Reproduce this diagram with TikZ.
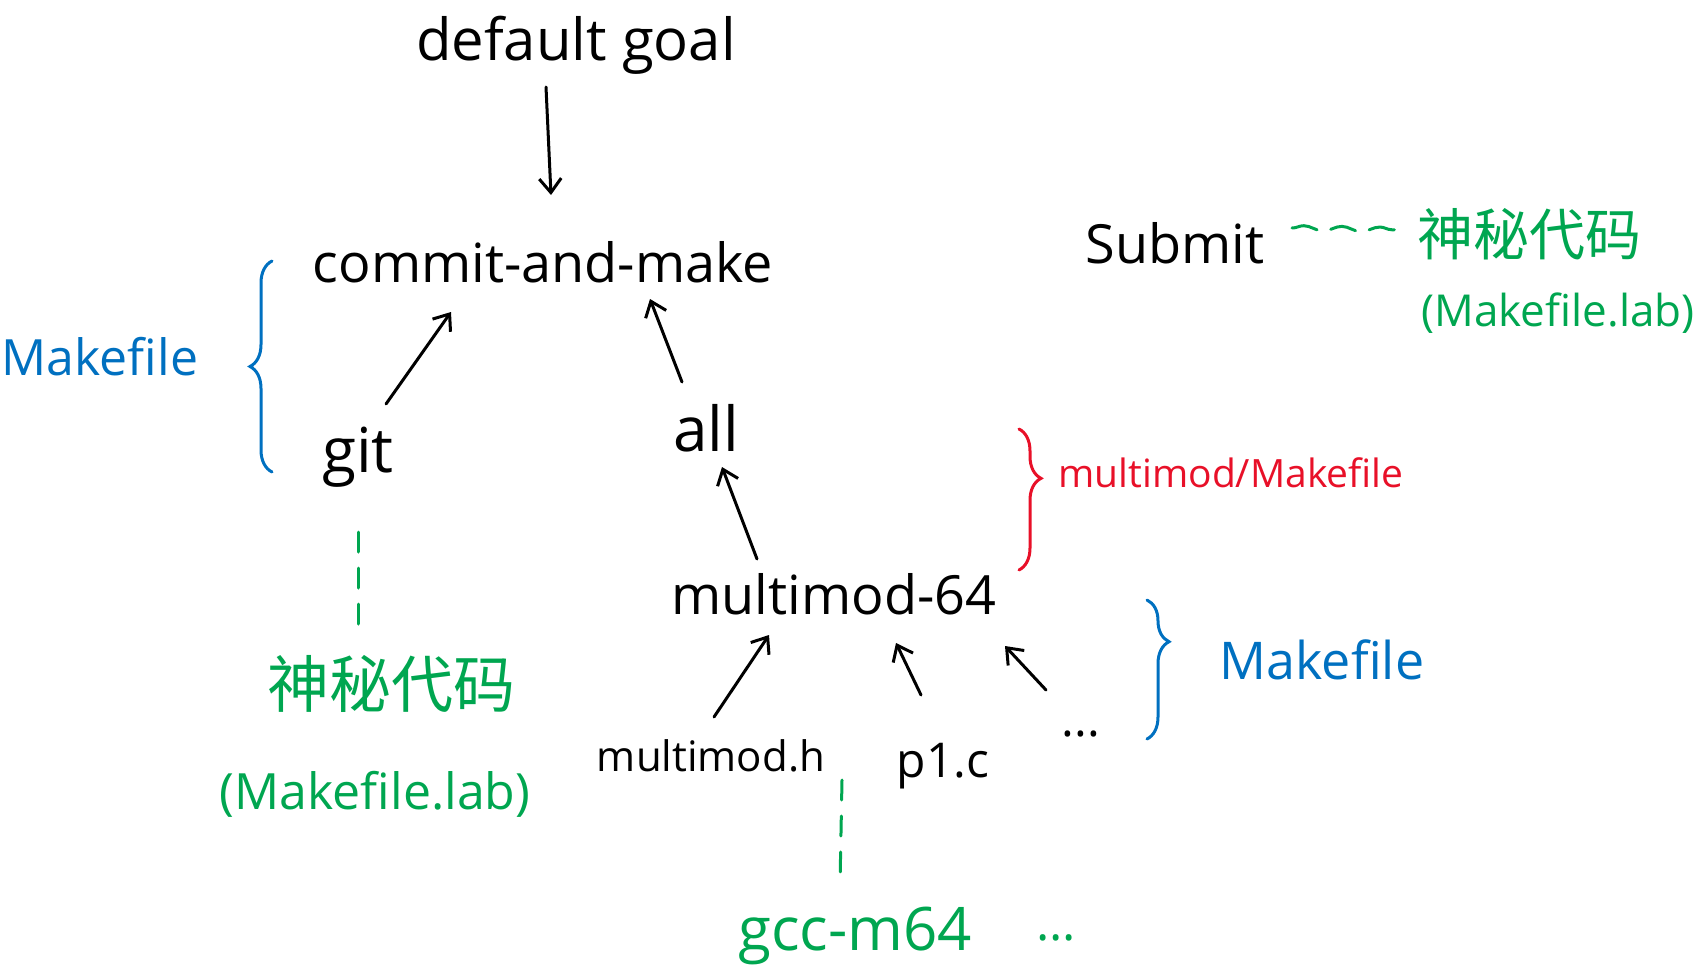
\documentclass[tikz,border=0pt]{standalone}
\usepackage{fontspec}
\setmainfont{Open Sans}
\newfontfamily\cjk{Noto Sans CJK SC}
\usetikzlibrary{arrows.meta,calc,decorations.pathreplacing,decorations.pathmorphing}
\definecolor{hgreen}{RGB}{0,166,80}
\definecolor{hblue}{RGB}{0,112,192}
\definecolor{hred}{RGB}{232,16,40}
\begin{document}
\begin{tikzpicture}[x=1pt,y=-1pt,
  lbl/.style={inner sep=0pt,anchor=base,font=\fontsize{54}{60}\selectfont},
  sm/.style={font=\fontsize{#1}{#1}\selectfont},
  arr/.style={-{Straight Barb[length=14pt,width=22pt,line width=3pt]},line width=3pt,line cap=round},
  gdash/.style={hgreen,line width=3pt,dash pattern=on 20pt off 16pt,line cap=round},
  hbrace/.style={decorate,decoration={brace,amplitude=22pt,aspect=#1},line width=3pt,line cap=round}]
\useasboundingbox (0,0) rectangle (1703,977);
% black labels
\node[lbl,sm=58] (dg) at (576,60) {default goal};
\node[lbl] (commit) at (543,282) {commit-and-make};
\node[lbl] (submit) at (1175,263) {Submit};
\node[lbl,sm=62] (git) at (358,472) {git};
\node[lbl,sm=62] (all) at (706,451) {all};
\node[lbl] (mm) at (834,614) {multimod-64};
\node[lbl,sm=42] (mmh) at (711,771) {multimod.h};
\node[lbl,sm=48] (p1c) at (943,777) {p1.c};
\node[lbl,sm=48] (dots) at (1081,736) {...};
% green labels
\node[inner sep=0pt,hgreen,font=\cjk\fontsize{56}{60}\selectfont] (myst1) at (1529,234) {神秘代码};
\node[lbl,hgreen,sm=44] (mkl1) at (1558,326) {(Makefile.lab)};
\node[inner sep=0pt,hgreen,font=\cjk\fontsize{62}{66}\selectfont] (myst2) at (391,684) {神秘代码};
\node[lbl,hgreen,sm=50] (mkl2) at (375,809) {(Makefile.lab)};
\node[lbl,hgreen,sm=60] (gcc) at (855,950) {gcc-m64};
\node[lbl,hgreen,sm=50] (gccdots) at (1056,940) {...};
% blue / red labels
\node[lbl,hblue,sm=50] (mkleft) at (100,375) {Makefile};
\node[lbl,hblue,sm=52] (mkright) at (1322,679) {Makefile};
\node[lbl,hred,sm=39] (redtxt) at (1231,487) {multimod/Makefile};
% arrows
\draw[arr] ($(dg.base)+(-30,27)$) -- ($(commit.base)+(8,-87)$);
\draw[arr] ($(git.base)+(28,-68)$) -- ($(commit.base)+(-92,30)$);
\draw[arr] ($(all.base)+(-24,-69)$) -- ($(commit.base)+(107,17)$);
\draw[arr] ($(mm.base)+(-77,-55)$) -- ($(all.base)+(16,16)$);
\draw[arr] ($(mmh.base)+(3,-54)$) -- ($(mm.base)+(-65,21)$);
\draw[arr] ($(p1c.base)+(-22,-82)$) -- ($(mm.base)+(62,29)$);
\draw[arr] ($(dots.base)+(-35,-46)$) -- ($(mm.base)+(171,32)$);
% green dashed connectors
\draw[gdash] ($(git.base)+(0,60)$) -- ($(myst2)+(-33,-60)$);
\draw[gdash] ($(mmh.base)+(131,9)$) -- ($(gcc.base)+(-15,-65)$);
\draw[hgreen,line width=3pt,line cap=round,dash pattern=on 26pt off 14pt,
  decorate,decoration={snake,amplitude=2.5pt,segment length=38pt}]
  ($(submit.base)+(117,-35)$) -- ($(myst1)+(-123,-4)$);
% braces
\draw[hbrace=0.5,hblue] ($(mkleft.base)+(172,97)$) -- ($(mkleft.base)+(172,-114)$);
\draw[hbrace=0.35,hred] ($(redtxt.base)+(-212,-58)$) -- ($(redtxt.base)+(-212,83)$);
\draw[hbrace=0.3,hblue] ($(mkright.base)+(-175,-79)$) -- ($(mkright.base)+(-175,60)$);
\end{tikzpicture}
\end{document}
